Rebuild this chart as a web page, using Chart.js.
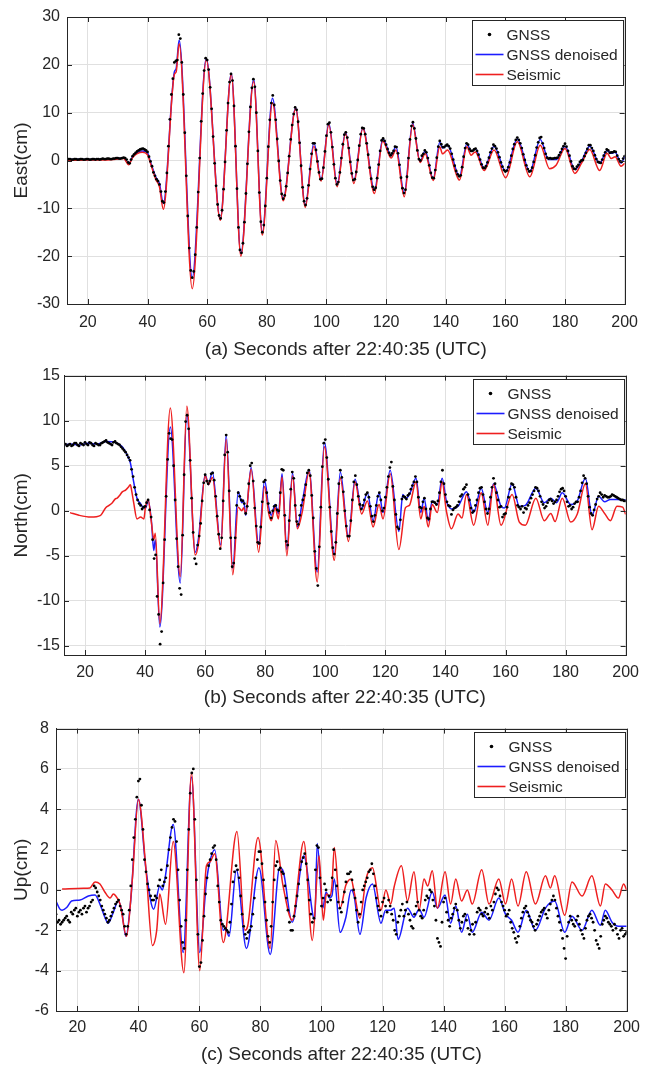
<!DOCTYPE html>
<html>
<head>
<meta charset="utf-8">
<script src="https://cdn.jsdelivr.net/npm/chart.js"></script>
<style>
  html, body { margin: 0; background: #fff; }
  body { width: 647px; height: 1067px; position: relative; overflow: hidden; }
  canvas { position: absolute; left: 0; }
</style>
</head>
<body>
<canvas id="east" width="647" height="362" style="top:0px"></canvas>
<canvas id="north" width="647" height="350" style="top:362px"></canvas>
<canvas id="up" width="647" height="355" style="top:712px"></canvas>
<script>
// time axis
const tMin = 13, tMax = 200;
const xTicks = [20, 40, 60, 80, 100, 120, 140, 160, 180, 200];
const gnssStart = 13; // whole-second GNSS samples start here, half-second ones at 13.5

// ---- East ----
const eastTicks = [-30, -20, -10, 0, 10, 20, 30];
const eastGnss = [
  0.2,0.3,0.2,0.3,0.2,0.3,0.2,0.3,0.2,0.3,
  0.3,0.2,0.4,0.3,0.4,0.3,0.4,0.5,0.4,0.6,
  0.2,-0.6,0.9,1.6,2.1,2.4,2.3,1.8,-0.2,-2.5,
  -3.9,-5.0,-8.5,-6.5,3.0,13.8,20.5,21.0,25.5,13.8,
  -3.2,-18.3,-24.5,-19.7,-6.6,8.2,18.8,21.0,15.3,5.0,
  -5.3,-11.5,-10.4,-0.3,12.0,18.1,11.4,-5.9,-18.7,-17.3,
  -6.9,6.0,15.2,15.4,2.0,-12.8,-13.5,-3.7,8.5,13.6,
  8.5,-0.1,-7.0,-7.3,-2.6,4.4,9.7,10.6,3.7,-5.6,
  -9.3,-5.2,1.4,3.6,-0.2,-3.9,-1.5,5.2,7.9,2.8,
  -3.7,-4.5,0.5,5.4,4.8,-0.3,-4.1,-2.4,3.1,6.8,
  5.5,1.2,-3.8,-6.1,-3.7,2.0,4.6,3.3,1.6,1.5,
  2.9,1.5,-3.6,-6.8,-3.4,4.4,8.0,4.6,0.3,1.0,
  2.1,0.5,-2.6,-3.7,0.6,4.1,2.8,3.1,3.0,1.4,
  -1.1,-2.9,-3.1,0.8,3.6,2.4,2.0,2.5,1.2,-0.8,
  -1.6,-0.4,1.7,3.3,2.5,0.7,-1.3,-2.3,-1.4,1.0,
  3.4,4.8,3.6,1.3,-1.0,-2.3,-1.5,1.1,3.8,4.9,
  2.6,0.6,0.5,0.4,0.5,1.1,2.4,3.5,2.0,-0.2,
  -1.7,-1.3,-0.3,0.1,1.6,3.2,2.6,1.1,-0.3,-0.5,
  1.0,2.3,1.6,1.7,1.8,0.3,-0.3,0.9
];
const eastGnssHalf = [
  0.3,0.2,0.3,0.2,0.3,0.2,0.3,0.2,0.3,0.2,
  0.3,0.3,0.3,0.4,0.3,0.4,0.5,0.4,0.5,0.5,
  -0.4,0.2,1.3,1.9,2.3,2.5,2.1,0.8,-1.2,-3.2,
  -4.3,-6.5,-8.8,-2.6,8.6,17.1,20.8,26.3,20.5,5.8,
  -11.6,-23.0,-23.2,-14.0,0.5,14.0,21.4,19.0,10.8,-0.6,
  -9.2,-12.1,-6.0,6.3,16.4,16.7,3.0,-14.0,-19.3,-12.9,
  -0.7,11.2,17.0,10.0,-6.7,-15.0,-9.5,2.9,12.0,11.6,
  4.5,-4.2,-8.0,-5.4,0.9,7.4,11.1,8.1,-1.1,-8.5,
  -7.9,-1.8,3.6,2.2,-2.5,-3.8,1.9,7.6,5.9,-0.8,
  -5.0,-2.5,3.4,5.9,2.6,-2.7,-3.9,0.1,5.5,6.7,
  3.6,-1.5,-5.5,-5.7,-0.85,4.2,4.1,2.4,1.1,2.0,
  2.8,-0.9,-5.8,-6.1,0.5,7.2,6.7,2.1,0.0,1.4,
  1.7,-1.0,-3.6,-2.0,2.9,3.4,2.8,3.3,2.5,0.2,
  -2.2,-3.3,-1.4,2.6,3.3,2.0,2.3,2.0,0.2,-1.5,
  -1.2,0.6,2.5,3.0,1.7,-0.4,-2.0,-2.1,-0.4,2.4,
  4.3,4.3,2.6,0.1,-1.8,-2.2,-0.3,2.7,4.7,3.6,
  1.4,0.4,0.4,0.5,0.6,1.7,3.0,2.9,1.0,-1.2,
  -1.8,-0.9,0.0,0.9,2.4,3.2,2.0,0.3,-0.4,0.2,
  1.7,2.1,1.7,1.9,1.0,-0.2,0.4
];
const eastDenoised = [
  [13,0.2],[17,0.25],[20,0.2],[25,0.3],[30,0.4],[32,0.5],[33.7,-0.7],[35,0.8],[38.3,2.0],[40,1.6],
  [41.1,-0.5],[42.8,-3.5],[44,-4.8],[45.3,-9.0],[49,18.5],[49.6,19.2],[50.6,25.2],[55,-24.5],[59.7,21.3],
  [64.4,-12.2],[68.1,18.2],[71.3,-19.5],[75.6,17.0],[78.5,-15.0],[81.9,13.0],[85.5,-8.0],[89.7,11.0],
  [92.9,-9.3],[95.8,3.7],[98.2,-4.0],[100.8,7.8],[103.6,-5.0],[106.4,5.9],[109.2,-4.2],[112.2,6.9],
  [116.1,-6.2],[118.9,4.5],[121.7,1.0],[123.3,2.9],[126.1,-6.8],[128.9,7.8],[131.4,-0.2],[133.1,2.0],
  [135.8,-3.8],[138,3.8],[139,2.6],[140.6,3.2],[144.6,-3.3],[147.1,3.5],[148.5,1.9],[149.9,2.4],
  [152.9,-1.6],[156.2,3.0],[160.1,-2.3],[164,4.5],[168.2,-2.3],[171.7,4.4],[174.5,0.2],[177,0.2],
  [180,3.0],[183.3,-1.9],[185.5,-0.2],[188.3,3.0],[191.6,-0.6],[194.1,2.1],[195.5,1.5],[196.8,1.7],
  [198.8,-0.5],[200,0.8]
];
const eastSeismic = [
  [13,0.0],[20,0.1],[25,0.1],[30,0.3],[32,0.4],[33.7,-0.9],[35,0.6],[38.3,1.7],[40,1.2],[41.1,-0.8],
  [42.8,-4.0],[44,-5.5],[45.3,-10.2],[49,18.0],[49.6,18.5],[50.6,24.4],[55,-26.8],[59.7,21.0],[64.4,-12.5],
  [68.1,18.0],[71.3,-20.0],[75.6,16.5],[78.5,-15.6],[81.9,12.0],[85.5,-8.4],[89.7,10.8],[92.9,-9.8],
  [95.8,3.0],[98.2,-4.3],[100.8,7.5],[103.6,-5.5],[106.4,5.6],[109.2,-4.8],[112.2,6.7],[116.1,-6.9],
  [118.9,4.0],[121.7,0.5],[123.3,2.2],[126.1,-7.6],[128.9,7.5],[131.4,-0.4],[133.1,1.4],[135.8,-4.2],
  [138,2.9],[138.9,1.4],[140.6,2.2],[144.6,-4.1],[147.1,2.9],[148.5,1.1],[149.9,1.8],[152.9,-2.1],
  [156.2,2.2],[160.1,-3.6],[164,3.9],[168.2,-3.4],[171.7,3.2],[174.8,-1.7],[177,-1.0],[180,2.5],
  [183.3,-2.7],[185.5,-0.6],[188.3,2.3],[191.6,-2.1],[194.1,1.5],[195.5,0.4],[196.8,0.8],[198.8,-1.2],
  [200,-0.6]
];

// ---- North ----
const northTicks = [-15, -10, -5, 0, 5, 10, 15];
const northGnss = [
  7.3,7.2,7.4,7.3,7.5,7.2,7.4,7.6,7.3,7.5,
  7.2,7.4,7.3,7.6,7.8,7.5,7.3,7.7,7.4,7.1,
  6.7,6.2,5.6,3.8,1.8,0.8,0.2,0.5,1.2,-0.7,
  -5.3,-9.5,-14.8,-8.0,1.6,8.6,7.9,1.2,-6.2,-9.3,
  4.0,10.6,5.6,-2.4,-5.9,-2.8,1.1,4.0,3.0,4.1,
  3.4,-0.6,-4.2,1.1,8.4,2.2,-6.2,-3.0,2.0,1.2,
  0.8,0.5,5.0,3.3,-1.7,-3.6,1.0,3.4,0.8,-0.8,
  0.5,0.1,2.0,4.5,-3.4,-1.1,4.3,0.6,-1.5,0.6,
  1.7,4.2,3.9,-0.8,-6.4,-4.0,4.9,7.9,3.5,-2.3,
  -4.8,-0.3,4.5,2.1,-1.7,-2.8,1.2,3.9,1.6,0.2,
  1.2,2.0,0.5,-1.2,0.6,2.0,0.0,1.5,3.8,5.4,
  1.2,-1.8,-1.0,1.6,1.3,1.9,2.8,3.8,1.5,0.3,
  1.4,-0.8,0.2,1.0,0.7,2.0,4.5,1.8,0.6,-0.4,
  0.3,0.6,1.6,2.4,2.9,1.2,-0.2,0.6,2.0,2.6,
  1.0,-0.3,1.5,3.6,2.0,0.4,-0.7,-0.3,1.5,3.0,
  2.6,0.6,0.2,-0.2,0.2,0.9,1.8,2.6,2.2,1.0,
  0.3,0.9,1.3,0.8,1.2,2.1,2.5,1.6,0.5,0.2,
  0.8,1.0,2.2,3.9,3.0,0.4,-0.5,0.7,1.6,1.8,
  1.7,1.5,1.6,1.7,1.5,1.3,1.2,1.1
];
const northGnssHalf = [
  7.4,7.3,7.2,7.5,7.3,7.5,7.3,7.4,7.6,7.3,
  7.5,7.3,7.5,7.7,7.6,7.4,7.6,7.5,7.3,6.9,
  6.5,5.9,4.6,2.6,1.2,0.6,0.4,0.9,0.1,-3.2,
  -4.9,-11.5,-13.4,-3.2,5.7,8.0,5.0,-3.1,-8.6,-2.7,
  9.9,9.1,1.4,-5.3,-3.8,-1.4,3.1,3.3,3.3,4.2,
  1.6,-2.6,-3.0,6.2,6.5,-3.0,-5.8,0.6,1.6,1.1,
  -0.3,3.0,5.3,0.3,-3.5,-1.8,3.2,2.0,-0.2,0.0,
  0.6,0.0,4.6,-0.5,-3.8,2.4,3.6,-1.2,-0.5,1.2,
  2.9,4.5,1.7,-4.5,-8.3,0.4,7.5,5.9,0.4,-4.1,
  -3.5,3.0,3.7,0.0,-2.8,-1.1,3.2,2.9,0.7,0.6,
  1.8,1.5,-0.6,-0.5,1.6,1.2,0.3,2.6,4.8,2.7,
  -0.4,-2.0,1.3,1.5,1.7,2.4,3.2,3.2,0.4,1.0,
  0.2,-0.9,1.0,0.9,1.1,3.2,3.0,1.0,0.5,0.1,
  0.4,1.0,1.8,2.6,1.8,0.3,0.0,1.2,2.5,1.8,
  0.2,0.2,2.6,3.0,1.2,0.5,-0.4,0.4,2.4,2.9,
  1.5,0.4,0.5,0.3,0.6,1.4,2.2,2.5,1.6,0.7,
  0.5,1.2,1.1,1.0,1.6,2.4,2.2,1.0,0.6,0.4,
  1.0,1.5,3.1,3.6,1.6,-0.3,0.1,1.3,2.0,1.5,
  1.6,1.5,1.8,1.6,1.4,1.2,1.1
];
const northDenoised = [
  [13,7.3],[15,7.4],[18,7.3],[21,7.5],[24,7.4],[27,7.7],[30,7.6],[32.4,7.1],[34,6.2],[35.1,5.3],
  [36.2,3.2],[37.3,1.4],[38.5,0.8],[39.6,0.3],[40.2,0.3],[41,1.2],[42.1,-1.1],[42.9,-4.4],[43.4,-3.2],
  [44.9,-12.9],[48.4,9.3],[51.7,-8.0],[53.9,10.7],[56.7,-4.6],[57.8,-3.0],[60,4.0],[61.1,2.9],[62.4,4.3],
  [65.2,-3.8],[67,8.4],[69.2,-6.4],[71,2.1],[72.2,0.9],[72.8,1.2],[73.5,-0.5],[75.3,4.8],[77.8,-3.7],
  [79.8,3.4],[81.1,0.5],[82,-0.5],[83.3,0.7],[84.4,-0.3],[85.6,4.1],[87.2,-4.3],[89.1,4.2],[90.7,-1.8],
  [92.4,1.1],[94.6,4.5],[97.3,-6.8],[99.7,7.6],[103,-4.8],[105,4.3],[107.7,-2.9],[109.9,3.5],[112.1,0.2],
  [114,2.0],[115.9,-1.1],[117.9,2.0],[119.2,-0.2],[121.6,4.5],[124.5,-2.3],[125.8,1.8],[126.7,1.4],
  [128,1.8],[130.2,3.6],[131.8,-0.2],[132.9,1.4],[134.3,-1.1],[135.6,1.1],[137.3,0.7],[138.9,3.6],
  [140.3,1.1],[142,0.2],[144.2,0.5],[147,2.1],[149.4,-0.2],[151.9,2.5],[154.1,-0.2],[156,3.0],
  [158.5,0.5],[159.6,0.3],[162.2,3.0],[164.6,0.5],[166.6,0.6],[170.1,2.5],[172.9,0.9],[175.1,1.4],
  [177,0.9],[178.9,2.0],[181.7,0.7],[183.9,1.1],[186.6,3.6],[188.8,-0.5],[191,1.6],[193,1.0],
  [194.9,1.25],[197.1,1.25],[200,1.2]
];
const northSeismic = [
  [15,-0.2],[18,-0.5],[21.9,-0.7],[25.2,-0.5],[26.9,0.35],[28,0.6],[29.1,0.9],[30,1.3],[30.7,1.4],
  [31.5,1.7],[32.4,2.1],[33.5,2.3],[34.6,2.7],[35.1,2.9],[35.5,2.3],[36.2,0.9],[37.3,-0.9],[38.5,-0.7],
  [39.6,-0.9],[40.1,0.35],[41,1.25],[42.1,-1.3],[42.9,-3.2],[43.4,-2.5],[44.9,-12.5],[48.4,11.4],
  [51.7,-7.3],[53.9,11.6],[56.7,-4.9],[57.8,-3.6],[60,3.9],[61.1,2.9],[62.4,3.7],[65.2,-4.1],[67,7.9],
  [69.2,-7.1],[71,0.4],[72.2,0],[72.8,0.35],[73.5,-0.3],[75.3,4.6],[77.8,-4.6],[79.8,2.7],[81.1,-0.2],
  [82,-1.1],[83.3,0.35],[84.4,-0.9],[85.6,3.75],[87.2,-5.0],[89.1,3.9],[90.7,-2.0],[92.4,0],[94.6,4.3],
  [97.3,-7.9],[99.7,7.1],[103,-5.5],[105,3.6],[107.7,-3.4],[109.9,3.2],[112.1,-0.35],[114,1.1],
  [115.9,-1.8],[117.9,0.7],[119.2,-0.9],[121.6,4.1],[124.5,-4.3],[126.7,0.35],[128,0.6],[130.2,3.2],
  [131.8,-0.9],[132.9,0.5],[134.3,-1.8],[135.6,0.7],[137.3,-0.2],[138.9,3.2],[140.3,0],[142,-2.0],
  [144.2,-0.35],[145.5,-0.8],[147,1.8],[149.4,-1.6],[151.9,2.0],[154.1,-1.6],[156,2.9],[158.5,-1.6],
  [162.2,1.8],[164.6,-1.25],[166.6,-1.6],[170.1,1.4],[172.9,-1.1],[175.1,-0.3],[176.5,-1.2],[178.9,1.4],
  [181.7,-1.25],[183.9,-0.35],[186.6,3.0],[188.8,-2.1],[191,0.5],[193,-0.3],[194.9,-1.1],[197.1,0.5],
  [199,0.4],[200,-0.4]
];

// ---- Up ----
const upTicks = [-6, -4, -2, 0, 2, 4, 6, 8];
const upGnss = [
  -1.2,-1.5,-1.6,-1.4,-1.5,-1.1,-1.0,-1.3,-1.0,-0.9,
  -1.1,-0.8,-0.5,0.1,-0.3,-0.8,-1.2,-1.6,-1.3,-0.9,
  -0.6,-0.8,-1.2,-2.2,-1.0,1.5,3.5,5.4,4.2,1.5,
  0.3,-0.3,-0.5,-0.4,0.5,0.2,0.6,2.0,3.1,3.4,
  1.0,-1.8,-2.9,1.0,4.8,6.0,0.5,-3.8,-2.5,-0.2,
  1.2,1.8,2.2,0.2,-1.5,-1.8,-2.0,-1.6,0.4,1.2,
  0.6,-1.2,-2.2,-2.1,-1.8,-0.4,1.5,1.9,0.5,-1.5,
  -2.6,-0.6,1.2,1.0,0.9,0.2,-1.0,-2.0,-1.3,-0.3,
  1.0,1.6,1.3,-0.5,-1.6,1.0,2.1,-0.8,0.3,-0.6,
  -0.5,2.0,0.2,-0.9,-0.6,0.4,0.8,0.5,-0.4,-1.6,
  -0.6,0.2,0.6,1.0,0.8,-0.4,-1.0,-0.6,-0.8,-0.5,
  -1.2,-2.0,-1.6,-1.0,-1.3,-0.6,-1.5,-1.9,-0.8,-1.0,
  -1.4,-0.5,-0.4,-0.1,-0.8,-2.4,-2.8,-0.6,-1.1,-1.8,
  -1.2,-0.7,-1.5,-1.6,-1.2,-1.9,-2.0,-2.2,-1.1,-1.0,
  -1.3,-0.9,-1.4,-1.0,-0.2,0.0,-0.6,-1.0,-1.2,-1.6,
  -2.1,-2.6,-1.8,-1.1,-0.8,-1.3,-1.6,-2.0,-1.5,-1.1,
  -0.9,-1.4,-0.7,-0.3,-0.9,-1.6,-2.4,-3.4,-1.6,-1.5,
  -1.8,-1.3,-2.0,-2.4,-1.5,-1.2,-1.6,-2.5,-2.9,-1.7,
  -1.3,-1.6,-1.8,-1.7,-2.2,-2.0,-2.3,-2.1
];
const upGnssHalf = [
  -1.6,-1.7,-1.5,-1.3,-1.6,-1.2,-0.9,-1.1,-1.2,-0.8,
  -0.9,-0.6,0.2,-0.1,-0.5,-1.0,-1.4,-1.5,-1.1,-0.7,
  -0.5,-1.0,-1.8,-1.8,0.2,2.6,4.6,5.5,3.0,0.9,
  0.0,-0.5,-0.3,0.2,1.0,0.4,1.2,2.6,3.5,2.4,
  -0.5,-2.6,-1.5,3.0,5.8,3.5,-2.2,-3.6,-1.3,0.6,
  1.5,2.1,1.5,-0.6,-1.7,-1.9,-2.1,-0.7,0.9,1.0,
  -0.3,-1.8,-2.4,-2.0,-1.2,0.6,1.9,1.3,-0.6,-2.3,
  -1.8,0.5,1.4,1.1,0.8,-0.4,-1.6,-2.0,-0.8,0.3,
  1.4,1.8,0.5,-1.2,-1.4,2.2,0.6,-0.4,0.0,-0.3,
  0.6,1.0,-0.6,-1.1,-0.1,0.8,0.9,0.0,-1.0,-1.2,
  0.0,0.4,0.9,1.3,0.2,-0.8,-1.3,-0.4,-1.1,-0.8,
  -1.5,-2.2,-1.3,-0.7,-1.0,-1.2,-1.8,-1.2,-0.6,-1.3,
  -1.0,-0.3,0.0,-0.5,-1.5,-2.6,-1.6,-0.4,-1.5,-1.4,
  -0.9,-1.0,-1.9,-1.3,-1.5,-2.2,-1.7,-1.6,-0.9,-1.2,
  -1.1,-1.2,-0.8,-0.6,0.1,-0.3,-0.8,-1.3,-1.0,-1.9,
  -2.4,-2.3,-1.4,-0.9,-1.1,-1.5,-1.8,-1.7,-1.3,-1.0,
  -1.2,-1.0,-0.5,-0.5,-1.3,-2.0,-2.9,-2.3,-1.3,-1.7,
  -1.5,-1.7,-2.2,-1.9,-1.3,-1.4,-2.0,-2.7,-2.3,-1.5,
  -1.4,-1.7,-2.0,-1.9,-2.4,-1.9,-2.2
];
const upDenoised = [
  [13,-0.55],[14.3,-0.95],[15,-1.0],[16.5,-0.87],[18.1,-0.55],[20.9,-0.5],[23.6,-0.3],[25.8,-0.25],
  [27.4,-0.7],[29,-1.35],[30.1,-1.65],[31.8,-1.1],[33.4,-0.55],[34.5,-1.0],[35.9,-2.3],[37.5,-0.5],
  [40,4.5],[42.5,1.0],[45,-0.95],[47,0.2],[47.8,0.0],[48.7,0.55],[51.4,3.25],[54.7,-3.1],[57.4,5.6],
  [60.1,-3.1],[62.3,0.4],[63.4,1.4],[65,2.0],[67.8,-2.0],[68.6,-1.9],[69.7,-2.3],[72.1,1.0],[75.4,-2.9],
  [79.5,1.1],[83.2,-3.2],[86.3,1.1],[87.5,0.9],[90.4,-1.6],[94.2,1.7],[97.8,-1.5],[98.6,2.3],
  [100.4,-0.9],[101.5,-0.1],[102.6,-0.4],[103.4,-0.3],[104.2,0.55],[106.1,-2.1],[108,-1.35],[109.7,0.0],
  [110.7,-0.3],[112.6,-2.2],[114.6,-0.4],[116.7,0.3],[119.5,-1.65],[121,-1.0],[122.7,-1.0],[123.8,-0.9],
  [125.1,-2.45],[128.2,-0.9],[130.3,-1.35],[132,-0.95],[133.6,-1.35],[136.3,-0.1],[138,-0.9],
  [140.5,-0.25],[142.3,-1.65],[144,-0.8],[145.9,-2.1],[147.8,-1.2],[149.4,-2.1],[152.5,-1.1],
  [154.9,-1.5],[158.1,-0.4],[160.3,-1.2],[162.3,-1.5],[164.4,-2.1],[167.1,-1.0],[170.1,-2.0],
  [173.4,-0.9],[176.4,-0.55],[179.7,-2.1],[182.1,-1.3],[185.4,-2.0],[188.6,-1.0],[191.4,-1.75],
  [193,-1.0],[195.2,-1.6],[197.3,-1.8],[200,-1.8]
];
const upSeismic = [
  [15,0.05],[22,0.08],[24.1,0.1],[25.8,0.4],[27.4,0.3],[29,-0.1],[30.7,-0.4],[31.8,-0.2],[32.6,-0.3],
  [34,-0.7],[36.1,-2.3],[38,0.5],[40,4.5],[42.5,1.0],[44.6,-2.75],[46,-2.0],[47,-0.2],[48.9,-1.7],
  [51.4,2.4],[54.9,-4.1],[57.4,5.8],[60.1,-4.0],[62.3,1.2],[63.5,1.4],[65,1.8],[67.8,-2.6],[72.3,2.9],
  [74.9,-2.0],[75.8,-1.8],[79.2,2.6],[83.2,-2.9],[85,2.45],[87.4,0.2],[90.4,-1.5],[94.2,2.4],[97,-2.5],
  [99.2,1.7],[100.6,-1.5],[101.6,-0.2],[102.6,-0.3],[103.4,0.15],[104.2,2.1],[106.1,-0.9],[108,0.25],
  [109.7,0.55],[110.7,-0.1],[112.6,-1.4],[114.6,0.55],[116.7,1.1],[119.5,-1.0],[121.1,0],[122.7,-0.7],
  [123.8,0.15],[126.2,1.2],[128.2,-0.55],[130.3,0.9],[132,-1.0],[133.6,0.55],[134.8,0.2],[136.3,0.95],
  [138,-0.9],[140.5,0.9],[142.3,-0.7],[144,0.55],[145.9,-0.55],[147.8,0.0],[149.4,-0.7],[152.5,1.0],
  [154.9,-0.7],[158.1,0.55],[160.3,-0.7],[162.3,0.55],[164.4,-0.8],[167.1,0.9],[170.1,-0.7],[173.4,0.7],
  [175,0.1],[176.4,0.7],[179.7,-1.25],[182.1,0.4],[185.4,-0.3],[188.6,0.7],[191.4,-0.8],[193,0.3],
  [195.2,0.0],[197.3,-0.4],[199,0.3],[200,0.0]
];

const ink = '#262626';
const gridColor = '#e0e0e0';
const blue = '#1c1cff';
const red = '#ee1f1f';
const family = '"Liberation Sans", Arial, sans-serif';

Chart.defaults.font.family = family;
Chart.defaults.color = ink;

// box round the axes, inward tick marks and the in-plot legend
const frame = {
  id: 'frame',
  afterDraw(chart) {
    const { ctx, chartArea: a, scales: { x, y } } = chart;
    ctx.save();
    ctx.strokeStyle = ink;
    ctx.lineWidth = 1;
    ctx.strokeRect(Math.round(a.left) + 0.5, Math.round(a.top) + 0.5,
      Math.round(a.right - a.left), Math.round(a.bottom - a.top));
    ctx.beginPath();
    x.ticks.forEach(t => {
      const px = Math.round(x.getPixelForValue(t.value)) + 0.5;
      ctx.moveTo(px, a.bottom); ctx.lineTo(px, a.bottom - 5);
      ctx.moveTo(px, a.top); ctx.lineTo(px, a.top + 5);
    });
    y.ticks.forEach(t => {
      const py = Math.round(y.getPixelForValue(t.value)) + 0.5;
      ctx.moveTo(a.left, py); ctx.lineTo(a.left + 5, py);
      ctx.moveTo(a.right, py); ctx.lineTo(a.right - 5, py);
    });
    ctx.stroke();

    // legend
    const w = 151, h = 65;
    const bx = Math.round(a.right - 2 - w) + 0.5, by = Math.round(a.top + 3) + 0.5;
    ctx.fillStyle = '#fff';
    ctx.fillRect(bx, by, w, h);
    ctx.strokeRect(bx, by, w, h);
    ctx.font = '15.5px ' + family;
    ctx.textBaseline = 'middle';
    ctx.textAlign = 'left';
    chart.data.datasets.forEach((ds, i) => {
      const ly = by + 14 + i * 20;
      if (ds.showLine === false) {
        ctx.fillStyle = '#000';
        ctx.beginPath();
        ctx.arc(bx + 17, ly, 1.8, 0, Math.PI * 2);
        ctx.fill();
      } else {
        ctx.strokeStyle = ds.borderColor;
        ctx.lineWidth = 1.6;
        ctx.beginPath();
        ctx.moveTo(bx + 3, ly); ctx.lineTo(bx + 31, ly);
        ctx.stroke();
      }
      ctx.fillStyle = ink;
      ctx.fillText(ds.label, bx + 34, ly + 1);
    });
    ctx.restore();
  }
};

const pairs = arr => arr.map(([x, y]) => ({ x, y }));

function gnssPoints(whole, half) {
  const pts = whole.map((v, i) => ({ x: gnssStart + i, y: v }));
  half.forEach((v, i) => pts.push({ x: gnssStart + 0.5 + i, y: v }));
  return pts.sort((p, q) => p.x - q.x);
}

function panel(id, p) {
  new Chart(document.getElementById(id), {
    type: 'line',
    data: {
      datasets: [
        {
          label: 'GNSS',
          data: gnssPoints(p.gnss, p.gnssHalf),
          showLine: false,
          pointRadius: 1.4,
          pointBorderWidth: 0,
          backgroundColor: '#000',
          borderColor: '#000',
          order: 0
        },
        {
          label: 'GNSS denoised',
          data: pairs(p.denoised),
          borderColor: blue,
          borderWidth: 1.5,
          pointRadius: 0,
          cubicInterpolationMode: 'monotone',
          order: 2
        },
        {
          label: 'Seismic',
          data: pairs(p.seismic),
          borderColor: red,
          borderWidth: 1.5,
          pointRadius: 0,
          cubicInterpolationMode: 'monotone',
          order: 1
        }
      ]
    },
    options: {
      responsive: false,
      animation: false,
      events: [],
      layout: { padding: { top: p.top, right: p.right, left: 0, bottom: 0 } },
      plugins: { legend: { display: false }, tooltip: { enabled: false } },
      scales: {
        x: {
          type: 'linear',
          min: tMin,
          max: tMax,
          afterBuildTicks: s => { s.ticks = xTicks.map(value => ({ value })); },
          afterFit: s => { s.height = p.xHeight; },
          grid: { color: gridColor, drawTicks: false },
          border: { color: ink },
          ticks: { padding: p.xTickPad, color: ink, font: { size: 16 }, maxRotation: 0 },
          title: {
            display: true, text: p.xTitle, color: ink,
            font: { size: 19 }, padding: { top: 0, bottom: p.xTitlePad }
          }
        },
        y: {
          min: p.yMin,
          max: p.yMax,
          afterBuildTicks: s => { s.ticks = p.yTicks.map(value => ({ value })); },
          afterFit: s => { s.width = p.yWidth; },
          grid: { color: gridColor, drawTicks: false },
          border: { color: ink },
          ticks: { padding: p.yTickPad, color: ink, font: { size: 16 } },
          title: {
            display: true, text: p.yTitle, color: ink,
            font: { size: 19 }, padding: { top: 10, bottom: 0 }
          }
        }
      }
    },
    plugins: [frame]
  });
}

panel('east', {
  gnss: eastGnss, gnssHalf: eastGnssHalf, denoised: eastDenoised, seismic: eastSeismic,
  yMin: -30, yMax: 30, yTicks: eastTicks, yTitle: 'East(cm)',
  xTitle: '(a) Seconds after 22:40:35 (UTC)',
  top: 17, right: 17, yWidth: 67, yTickPad: 7,
  xHeight: 58, xTickPad: 9, xTitlePad: 0.6
});

panel('north', {
  gnss: northGnss, gnssHalf: northGnssHalf, denoised: northDenoised, seismic: northSeismic,
  yMin: -16, yMax: 15, yTicks: northTicks, yTitle: 'North(cm)',
  xTitle: '(b) Seconds after 22:40:35 (UTC)',
  top: 5, right: 18, yWidth: 64, yTickPad: 4,
  xHeight: 57, xTickPad: 8, xTitlePad: 2.6
});

panel('up', {
  gnss: upGnss, gnssHalf: upGnssHalf, denoised: upDenoised, seismic: upSeismic,
  yMin: -6, yMax: 8, yTicks: upTicks, yTitle: 'Up(cm)',
  xTitle: '(c) Seconds after 22:40:35 (UTC)',
  top: 5, right: 19, yWidth: 56, yTickPad: 7,
  xHeight: 56, xTickPad: 7, xTitlePad: 0.6
});
</script>
</body>
</html>
